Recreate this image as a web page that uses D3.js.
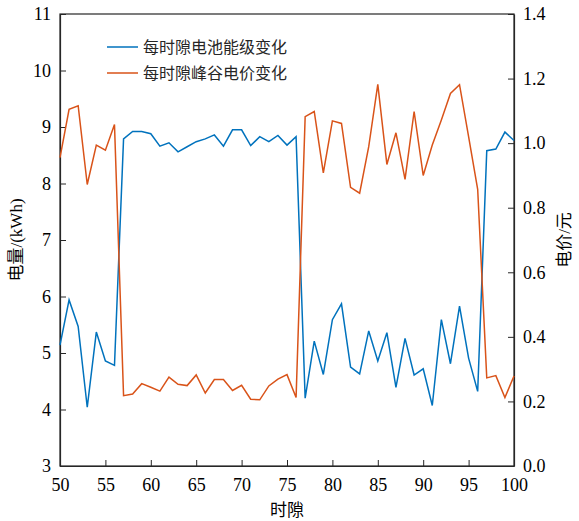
<!DOCTYPE html>
<html>
<head>
<meta charset="utf-8">
<script src="https://d3js.org/d3.v7.min.js"></script>
<style>
  body { margin: 0; background: #fff; }
</style>
</head>
<body>
<div id="graph"></div>
<script>
// Time slots 50..100
var slots = d3.range(50, 101);

// Battery energy per slot (kWh, left axis)
var energy = [5.14, 5.94, 5.47, 4.04, 5.37, 4.86, 4.78, 8.79, 8.92, 8.92,
  8.88, 8.66, 8.72, 8.56, 8.65, 8.74, 8.79, 8.86, 8.66, 8.95,
  8.95, 8.67, 8.83, 8.74, 8.85, 8.68, 8.83, 4.20, 5.21, 4.62,
  5.59, 5.87, 4.75, 4.63, 5.39, 4.86, 5.36, 4.39, 5.26, 4.61,
  4.72, 4.07, 5.59, 4.81, 5.83, 4.91, 4.32, 8.58, 8.61, 8.91, 8.76];

// Peak-valley price per slot (yuan, right axis)
var price = [0.955, 1.105, 1.116, 0.872, 0.994, 0.978, 1.058, 0.218, 0.223, 0.255,
  0.244, 0.232, 0.275, 0.253, 0.249, 0.282, 0.226, 0.268, 0.268, 0.234,
  0.250, 0.207, 0.205, 0.248, 0.269, 0.283, 0.212, 1.082, 1.098, 0.908,
  1.069, 1.061, 0.863, 0.845, 0.989, 1.182, 0.934, 1.032, 0.888, 1.098,
  0.900, 0.994, 1.072, 1.154, 1.181, 1.020, 0.857, 0.273, 0.280, 0.212, 0.279];

var xTicks = [50, 55, 60, 65, 70, 75, 80, 85, 90, 95, 100];
var yLeftTicks = [3, 4, 5, 6, 7, 8, 9, 10, 11];
var yRightTicks = [0, 0.2, 0.4, 0.6, 0.8, 1.0, 1.2, 1.4];

var seriesNames = ['每时隙电池能级变化', '每时隙峰谷电价变化'];
var colors = ['#0072BD', '#D95319'];

var W = 579, H = 521;
var margin = {top: 14, right: 65, bottom: 55, left: 60};
var width = W - margin.left - margin.right,
    height = H - margin.top - margin.bottom;

var serif = 'Liberation Serif, DejaVu Serif, serif';

var svg = d3.select('#graph').append('svg')
  .attr('width', W).attr('height', H)
  .append('g')
  .attr('transform', `translate(${margin.left}, ${margin.top})`);

var x = d3.scaleLinear().domain([50, 100]).range([0, width]);
var yL = d3.scaleLinear().domain([3, 11]).range([height, 0]);
var yR = d3.scaleLinear().domain([0, 1.4]).range([height, 0]);

// frame
svg.append('rect')
  .attr('width', width).attr('height', height)
  .attr('fill', 'none').attr('stroke', '#262626').attr('stroke-width', 1.2);

// axes with inward ticks
var axes = [];
axes.push(svg.append('g').attr('transform', `translate(0, ${height})`)
  .call(d3.axisBottom(x).tickValues(xTicks).tickSizeInner(-6).tickSizeOuter(0).tickPadding(12)));
axes.push(svg.append('g')
  .call(d3.axisLeft(yL).tickValues(yLeftTicks).tickSizeInner(-6).tickSizeOuter(0).tickPadding(9)));
axes.push(svg.append('g').attr('transform', `translate(${width}, 0)`)
  .call(d3.axisRight(yR).tickValues(yRightTicks).tickFormat(d3.format('.1f'))
    .tickSizeInner(-6).tickSizeOuter(0).tickPadding(9)));

axes.forEach(function(g) {
  g.attr('font-family', serif).attr('font-size', 18);
});

svg.selectAll('.domain').attr('stroke', '#262626').attr('stroke-width', 1.2);
svg.selectAll('.tick line').attr('stroke', '#262626');
svg.selectAll('.tick text').attr('fill', '#000');

// lines
var lineL = d3.line().x(function(d, i) { return x(slots[i]); }).y(function(d) { return yL(d); });
var lineR = d3.line().x(function(d, i) { return x(slots[i]); }).y(function(d) { return yR(d); });

svg.append('path').datum(energy)
  .attr('d', lineL).attr('fill', 'none')
  .attr('stroke', colors[0]).attr('stroke-width', 1.5);

svg.append('path').datum(price)
  .attr('d', lineR).attr('fill', 'none')
  .attr('stroke', colors[1]).attr('stroke-width', 1.5);

// axis titles
var cjk = 'Liberation Serif, Noto Sans CJK SC, sans-serif';
svg.append('text')
  .attr('x', width / 2).attr('y', height + 50)
  .attr('text-anchor', 'middle')
  .attr('font-family', cjk).attr('font-size', 17)
  .text('时隙');

svg.append('text')
  .attr('transform', `translate(${-38}, ${height / 2}) rotate(-90)`)
  .attr('text-anchor', 'middle')
  .attr('font-family', cjk).attr('font-size', 17)
  .text('电量/(kWh)');

svg.append('text')
  .attr('transform', `translate(${width + 56}, ${height / 2}) rotate(-90)`)
  .attr('text-anchor', 'middle')
  .attr('font-family', cjk).attr('font-size', 17)
  .text('电价/元');

// legend
var legend = svg.append('g').attr('transform', 'translate(47, 33)');
seriesNames.forEach(function(name, i) {
  legend.append('line')
    .attr('x1', 0).attr('x2', 31)
    .attr('y1', i * 26).attr('y2', i * 26)
    .attr('stroke', colors[i]).attr('stroke-width', 1.5);
  legend.append('text')
    .attr('x', 36).attr('y', i * 26 + 6)
    .attr('font-family', 'Noto Sans CJK SC, sans-serif').attr('font-size', 16)
    .attr('fill', '#262626')
    .text(name);
});
</script>
</body>
</html>
